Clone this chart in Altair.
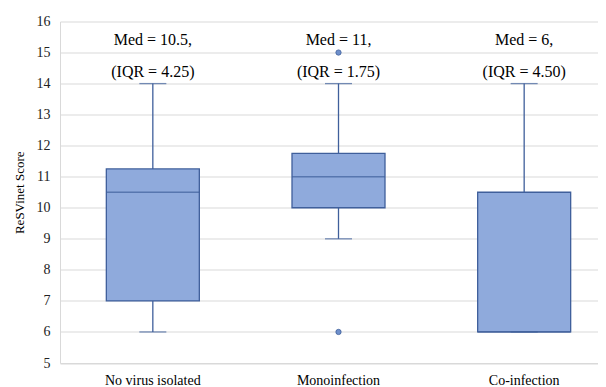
import altair as alt
import pandas as pd

categories = ["No virus isolated", "Monoinfection", "Co-infection"]
lower_whisker = [6, 9, 6]
q1 = [7, 10, 6]
median = [10.5, 11, 6]
q3 = [11.25, 11.75, 10.5]
upper_whisker = [14, 14, 14]
outlier_cat = ["Monoinfection", "Monoinfection"]
outlier_val = [15, 6]
med_text = ["Med = 10.5,", "Med = 11,", "Med = 6,"]
iqr_text = ["(IQR = 4.25)", "(IQR = 1.75)", "(IQR = 4.50)"]
y_ticks = [5, 6, 7, 8, 9, 10, 11, 12, 13, 14, 15, 16]

df = pd.DataFrame({
    "cat": categories, "lo": lower_whisker, "q1": q1, "med": median,
    "q3": q3, "hi": upper_whisker, "medt": med_text, "iqrt": iqr_text,
})
out = pd.DataFrame({"cat": outlier_cat, "v": outlier_val})

FONT = "Liberation Serif"
FILL = "#8FAADC"
STROKE = "#3F5F9B"

X = alt.X("cat:N", sort=categories, title=None,
          scale=alt.Scale(domain=categories, range=[0, 557], paddingInner=0, paddingOuter=0),
          axis=alt.Axis(labelAngle=0, ticks=False, labelPadding=10, grid=False,
                        labelColor="#000000", labelFont=FONT, labelFontSize=14,
                        domainColor="#d9d9d9"))
yscale = alt.Scale(domain=[5, 16], nice=False, zero=False)
yaxis = alt.Axis(values=y_ticks, tickCount=12, grid=True, ticks=False, gridColor="#d9d9d9",
                 domainColor="#d9d9d9", labelPadding=10, labelOverlap=False, labelColor="#222222",
                 labelFont=FONT, labelFontSize=14,
                 title="ReSVinet Score", titlePadding=10, titleFont=FONT, titleFontSize=13,
                 titleFontWeight="normal", titleColor="#000000")


def Y(field):
    return alt.Y(field, type="quantitative", scale=yscale, axis=yaxis)


base = alt.Chart(df)
whisk = base.mark_rule(color=STROKE, strokeWidth=1.3).encode(x=X, y=Y("lo"), y2="hi:Q")
box = base.mark_bar(size=93, color=FILL, stroke=STROKE, strokeWidth=1.3).encode(
    x=X, y=Y("q1"), y2="q3:Q")
med = base.mark_tick(size=93, thickness=1.5, color=STROKE).encode(x=X, y=Y("med"))
capl = base.mark_tick(size=27, thickness=1.3, color=STROKE).encode(x=X, y=Y("lo"))
caph = base.mark_tick(size=27, thickness=1.3, color=STROKE).encode(x=X, y=Y("hi"))
pts = alt.Chart(out).mark_circle(size=28, color="#6E8FCB", stroke=STROKE, strokeWidth=0.8,
                                 opacity=1).encode(x=X, y=Y("v"))
t1 = base.mark_text(font=FONT, fontSize=16, color="#000000", baseline="middle").encode(
    x=X, y=alt.datum(15.42, scale=yscale, axis=yaxis), text="medt:N")
t2 = base.mark_text(font=FONT, fontSize=16, color="#000000", baseline="middle").encode(
    x=X, y=alt.datum(14.36, scale=yscale, axis=yaxis), text="iqrt:N")

chart = alt.layer(whisk, box, med, capl, caph, pts, t1, t2).properties(
    width=538, height=341.5,
    autosize=alt.AutoSizeParams(type="none"),
    padding={"left": 52, "top": 13.5, "right": 0, "bottom": 24},
).configure_view(stroke=None)

chart.save("out.html", embed_options={"renderer": "svg", "actions": False})
